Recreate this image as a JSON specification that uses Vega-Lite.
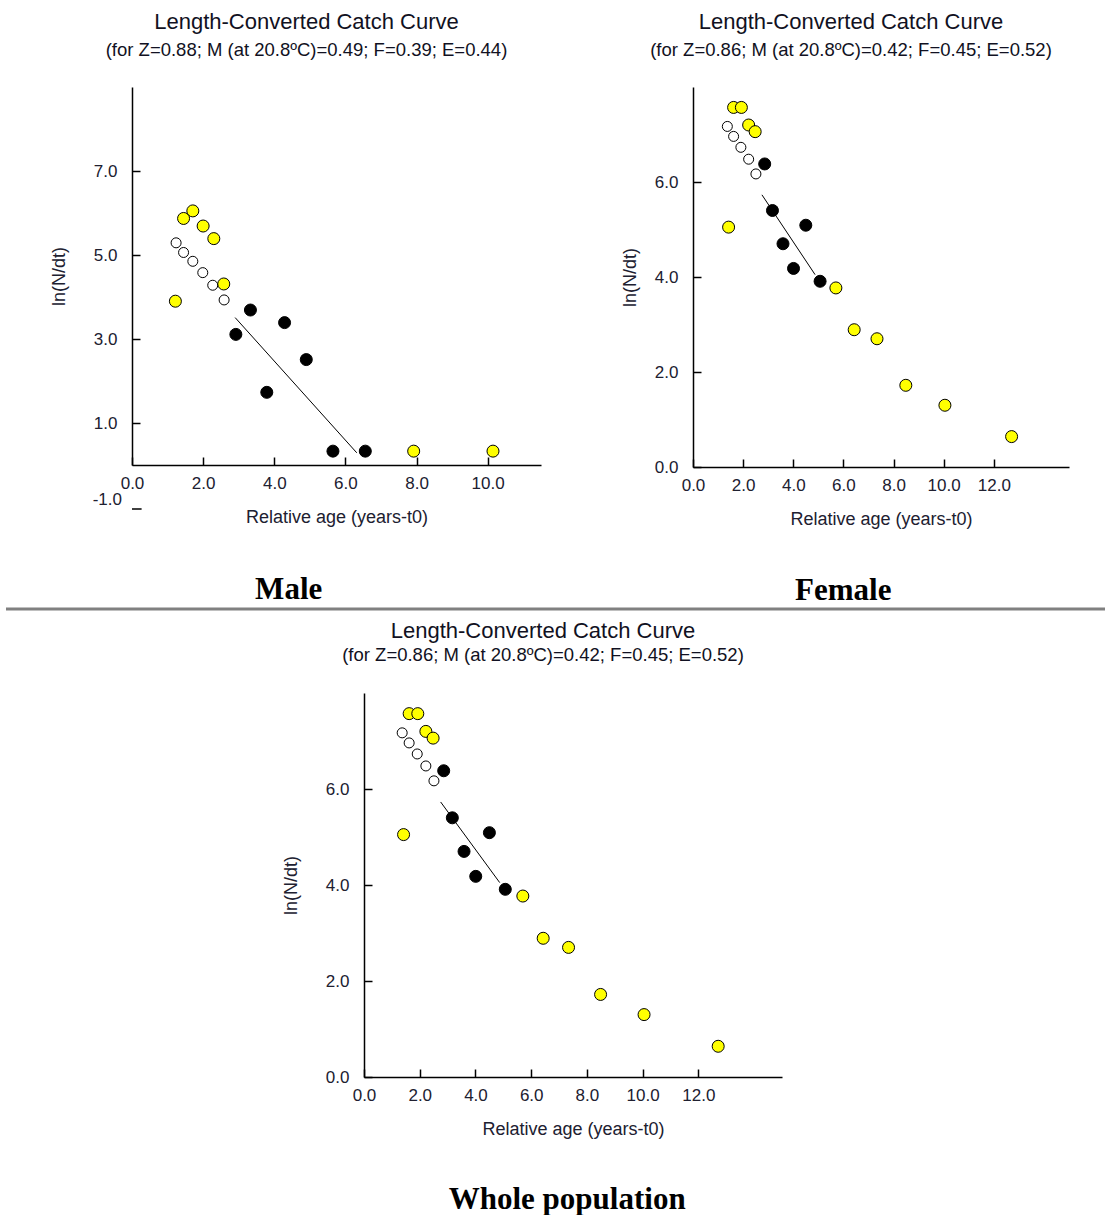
{
  "$schema": "https://vega.github.io/schema/vega-lite/v6.json",
  "padding": {"left": 4, "top": 10, "right": 0, "bottom": 0},
  "background": "#ffffff",
  "config": {
    "view": {"stroke": null},
    "axis": {
      "grid": false, "domainColor": "#000000", "domainWidth": 1.5,
      "tickColor": "#000000", "tickWidth": 1.5, "tickSize": -8,
      "labelFont": "Liberation Sans", "labelFontSize": 17, "labelColor": "#202030",
      "titleFont": "Liberation Sans", "titleFontSize": 18, "titleFontWeight": "normal", "titleColor": "#202030",
      "labelFlush": false, "labelOverlap": false
    },
    "axisX": {"labelPadding": 18, "titlePadding": 17},
    "axisY": {"labelPadding": 23, "titlePadding": 25},
    "title": {
      "font": "Liberation Sans", "fontSize": 22, "fontWeight": "normal", "color": "#111122",
      "subtitleFont": "Liberation Sans", "subtitleFontSize": 18.5, "subtitleColor": "#111122",
      "subtitlePadding": 7, "offset": 27, "dx": -30, "anchor": "middle"
    }
  },
  "datasets": {
    "male_pts": [
      {"age": 1.22, "lnNdt": 3.90, "group": "excluded"},
      {"age": 1.45, "lnNdt": 5.87, "group": "excluded"},
      {"age": 1.71, "lnNdt": 6.05, "group": "excluded"},
      {"age": 2.00, "lnNdt": 5.69, "group": "excluded"},
      {"age": 2.30, "lnNdt": 5.39, "group": "excluded"},
      {"age": 2.58, "lnNdt": 4.31, "group": "excluded"},
      {"age": 7.92, "lnNdt": 0.33, "group": "excluded"},
      {"age": 10.15, "lnNdt": 0.33, "group": "excluded"},
      {"age": 1.24, "lnNdt": 5.29, "group": "open"},
      {"age": 1.45, "lnNdt": 5.06, "group": "open"},
      {"age": 1.71, "lnNdt": 4.85, "group": "open"},
      {"age": 1.99, "lnNdt": 4.58, "group": "open"},
      {"age": 2.27, "lnNdt": 4.28, "group": "open"},
      {"age": 2.59, "lnNdt": 3.93, "group": "open"},
      {"age": 2.92, "lnNdt": 3.11, "group": "used"},
      {"age": 3.33, "lnNdt": 3.69, "group": "used"},
      {"age": 3.79, "lnNdt": 1.73, "group": "used"},
      {"age": 4.29, "lnNdt": 3.39, "group": "used"},
      {"age": 4.90, "lnNdt": 2.51, "group": "used"},
      {"age": 5.65, "lnNdt": 0.33, "group": "used"},
      {"age": 6.56, "lnNdt": 0.33, "group": "used"}
    ],
    "male_line": [
      {"age": 2.90, "lnNdt": 3.51},
      {"age": 6.32, "lnNdt": 0.29}
    ],
    "female_pts": [
      {"age": 1.42, "lnNdt": 5.05, "group": "excluded"},
      {"age": 1.62, "lnNdt": 7.57, "group": "excluded"},
      {"age": 1.93, "lnNdt": 7.57, "group": "excluded"},
      {"age": 2.22, "lnNdt": 7.20, "group": "excluded"},
      {"age": 2.48, "lnNdt": 7.06, "group": "excluded"},
      {"age": 5.70, "lnNdt": 3.77, "group": "excluded"},
      {"age": 6.43, "lnNdt": 2.89, "group": "excluded"},
      {"age": 7.34, "lnNdt": 2.70, "group": "excluded"},
      {"age": 8.49, "lnNdt": 1.72, "group": "excluded"},
      {"age": 10.05, "lnNdt": 1.30, "group": "excluded"},
      {"age": 12.71, "lnNdt": 0.64, "group": "excluded"},
      {"age": 1.37, "lnNdt": 7.17, "group": "open"},
      {"age": 1.62, "lnNdt": 6.96, "group": "open"},
      {"age": 1.91, "lnNdt": 6.73, "group": "open"},
      {"age": 2.22, "lnNdt": 6.48, "group": "open"},
      {"age": 2.51, "lnNdt": 6.17, "group": "open"},
      {"age": 2.86, "lnNdt": 6.38, "group": "used"},
      {"age": 3.17, "lnNdt": 5.40, "group": "used"},
      {"age": 3.59, "lnNdt": 4.70, "group": "used"},
      {"age": 4.01, "lnNdt": 4.18, "group": "used"},
      {"age": 4.50, "lnNdt": 5.09, "group": "used"},
      {"age": 5.07, "lnNdt": 3.91, "group": "used"}
    ],
    "female_line": [
      {"age": 2.75, "lnNdt": 5.73},
      {"age": 4.87, "lnNdt": 4.05}
    ],
    "male_extra": [
      {"age": 0, "age2": 0.27, "lnNdt": -1.0, "label": "-1.0"}
    ],
    "sep": [
      {"from": 0, "to": 1, "level": 0}
    ]
  },
  "vconcat": [
    {
      "vconcat": [
        {
          "hconcat": [
            {"width": 44, "height": 1, "data": {"values": []}, "mark": {"type": "text"}, "encoding": {}},
            {
              "hconcat": [
                {
                  "title": {"text": "Male", "orient": "bottom", "font": "Liberation Serif", "fontSize": 31, "fontWeight": "bold", "color": "#000000", "frame": "bounds", "dx": -7, "offset": 49},
                  "vconcat": [
                    {
                      "title": {"text": "Length-Converted Catch Curve", "subtitle": "(for Z=0.88; M (at 20.8ºC)=0.49; F=0.39; E=0.44)"},
                      "width": 409, "height": 378,
                      "encoding": {
                        "x": {"field": "age", "type": "quantitative", "scale": {"domain": [0, 11.5]}, "axis": {"values": [0, 2, 4, 6, 8, 10], "format": ".1f", "title": "Relative age (years-t0)"}},
                        "y": {"field": "lnNdt", "type": "quantitative", "scale": {"domain": [0, 9]}, "axis": {"values": [1, 3, 5, 7], "format": ".1f", "title": "ln(N/dt)"}}
                      },
                      "layer": [
                        {"data": {"name": "male_line"}, "mark": {"type": "line", "color": "#000000", "strokeWidth": 1}},
                        {"data": {"name": "male_pts"}, "transform": [{"filter": "datum.group === 'open'"}], "mark": {"type": "point", "shape": "circle", "filled": true, "fill": "#ffffff", "stroke": "#000000", "strokeWidth": 1, "size": 100, "opacity": 1}},
                        {"data": {"name": "male_pts"}, "transform": [{"filter": "datum.group !== 'open'"}], "mark": {"type": "circle", "stroke": "#000000", "strokeWidth": 1, "size": 144, "opacity": 1},
                          "encoding": {"color": {"field": "group", "type": "nominal", "scale": {"domain": ["excluded", "used"], "range": ["#ffff00", "#000000"]}, "legend": null}}},
                        {"data": {"name": "male_extra"}, "mark": {"type": "text", "align": "right", "baseline": "alphabetic", "dx": -10, "dy": -2, "font": "Liberation Sans", "fontSize": 17, "color": "#202030"},
                          "encoding": {"text": {"field": "label"}}},
                        {"data": {"name": "male_extra"}, "mark": {"type": "rule", "color": "#000000", "strokeWidth": 1.5, "yOffset": 2},
                          "encoding": {"x2": {"field": "age2"}}}
                      ]
                    }
                  ]
                },
                {
                  "title": {"text": "Female", "orient": "bottom", "font": "Liberation Serif", "fontSize": 31, "fontWeight": "bold", "color": "#000000", "frame": "bounds", "dx": -2, "offset": 48},
                  "vconcat": [
                    {
                      "title": {"text": "Length-Converted Catch Curve", "subtitle": "(for Z=0.86; M (at 20.8ºC)=0.42; F=0.45; E=0.52)"},
                      "width": 376, "height": 380,
                      "encoding": {
                        "x": {"field": "age", "type": "quantitative", "scale": {"domain": [0, 15]}, "axis": {"values": [0, 2, 4, 6, 8, 10, 12], "format": ".1f", "title": "Relative age (years-t0)"}},
                        "y": {"field": "lnNdt", "type": "quantitative", "scale": {"domain": [0, 8]}, "axis": {"values": [0, 2, 4, 6], "format": ".1f", "title": "ln(N/dt)", "titlePadding": 15}}
                      },
                      "layer": [
                        {"data": {"name": "female_line"}, "mark": {"type": "line", "color": "#000000", "strokeWidth": 1}},
                        {"data": {"name": "female_pts"}, "transform": [{"filter": "datum.group === 'open'"}], "mark": {"type": "point", "shape": "circle", "filled": true, "fill": "#ffffff", "stroke": "#000000", "strokeWidth": 1, "size": 100, "opacity": 1}},
                        {"data": {"name": "female_pts"}, "transform": [{"filter": "datum.group !== 'open'"}], "mark": {"type": "circle", "stroke": "#000000", "strokeWidth": 1, "size": 144, "opacity": 1},
                          "encoding": {"color": {"field": "group", "type": "nominal", "scale": {"domain": ["excluded", "used"], "range": ["#ffff00", "#000000"]}, "legend": null}}}
                      ]
                    }
                  ]
                }
              ],
              "spacing": 80
            }
          ],
          "spacing": 0
        },
        {
          "width": 1101, "height": 1,
          "data": {"name": "sep"},
          "mark": {"type": "rule", "color": "#808080", "strokeWidth": 3},
          "encoding": {
            "x": {"field": "from", "type": "quantitative", "scale": {"domain": [0, 1]}, "axis": null},
            "x2": {"field": "to"},
            "y": {"field": "level", "type": "quantitative", "scale": {"domain": [0, 1]}, "axis": null}
          }
        }
      ],
      "spacing": 1
    },
    {
      "hconcat": [
        {"width": 276, "height": 1, "data": {"values": []}, "mark": {"type": "text"}, "encoding": {}},
        {
          "title": {"text": "Whole population", "orient": "bottom", "font": "Liberation Serif", "fontSize": 31, "fontWeight": "bold", "color": "#000000", "frame": "bounds", "dx": 35, "offset": 47},
          "vconcat": [
            {
              "title": {"text": "Length-Converted Catch Curve", "subtitle": "(for Z=0.86; M (at 20.8ºC)=0.42; F=0.45; E=0.52)", "subtitlePadding": 3, "offset": 28},
              "width": 418, "height": 384,
              "encoding": {
                "x": {"field": "age", "type": "quantitative", "scale": {"domain": [0, 15]}, "axis": {"values": [0, 2, 4, 6, 8, 10, 12], "format": ".1f", "title": "Relative age (years-t0)"}},
                "y": {"field": "lnNdt", "type": "quantitative", "scale": {"domain": [0, 8]}, "axis": {"values": [0, 2, 4, 6], "format": ".1f", "title": "ln(N/dt)"}}
              },
              "layer": [
                {"data": {"name": "female_line"}, "mark": {"type": "line", "color": "#000000", "strokeWidth": 1}},
                {"data": {"name": "female_pts"}, "transform": [{"filter": "datum.group === 'open'"}], "mark": {"type": "point", "shape": "circle", "filled": true, "fill": "#ffffff", "stroke": "#000000", "strokeWidth": 1, "size": 100, "opacity": 1}},
                {"data": {"name": "female_pts"}, "transform": [{"filter": "datum.group !== 'open'"}], "mark": {"type": "circle", "stroke": "#000000", "strokeWidth": 1, "size": 144, "opacity": 1},
                  "encoding": {"color": {"field": "group", "type": "nominal", "scale": {"domain": ["excluded", "used"], "range": ["#ffff00", "#000000"]}, "legend": null}}}
              ]
            }
          ]
        }
      ],
      "spacing": 0
    }
  ],
  "spacing": 8
}
